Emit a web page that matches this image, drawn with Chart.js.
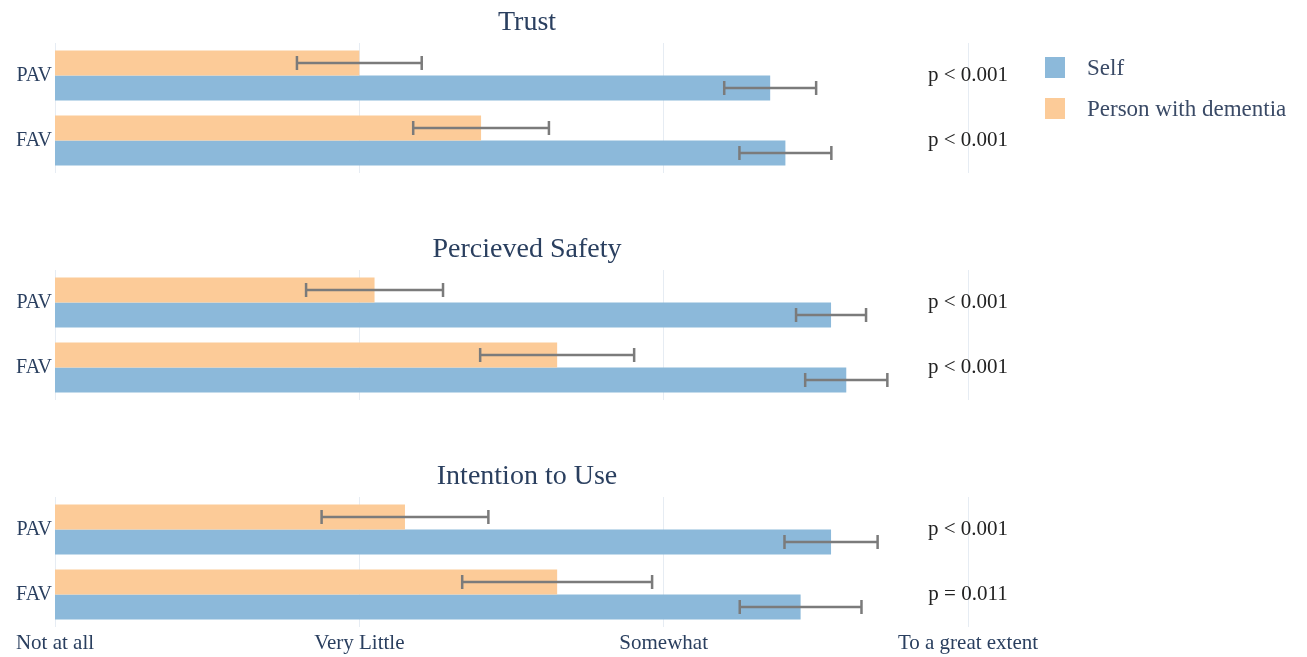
<!DOCTYPE html>
<html lang="en">
<head>
    <meta charset="UTF-8">
    <title>Trust, Safety and Intention to Use</title>
    <script src="https://cdn.jsdelivr.net/npm/chart.js"></script>
    <style>
        body {
            margin: 0;
            padding: 0;
            background-color: #fff;
            font-family: "Liberation Serif", serif;
        }
        .page {
            position: relative;
            width: 1307px;
            height: 657px;
            overflow: hidden;
        }
        .panel {
            position: absolute;
            left: 0;
            width: 1307px;
        }
        .legend {
            position: absolute;
            left: 1045px;
            top: 57px;
            color: #3a4a66;
            font-size: 23px;
        }
        .legend-item {
            display: flex;
            align-items: center;
            height: 21px;
            margin-bottom: 20px;
        }
        .swatch {
            width: 20px;
            height: 21px;
            margin-right: 22px;
        }
    </style>
</head>
<body>
<div class="page">
    <div class="panel" style="top:0px"><canvas id="chart0" width="1307" height="173"></canvas></div>
    <div class="panel" style="top:200px"><canvas id="chart1" width="1307" height="200"></canvas></div>
    <div class="panel" style="top:430px"><canvas id="chart2" width="1307" height="227"></canvas></div>

    <div class="legend">
        <div class="legend-item"><div class="swatch" style="background:#8cb9da"></div>Self</div>
        <div class="legend-item"><div class="swatch" style="background:#fccb98"></div>Person with dementia</div>
    </div>
</div>

<script>
    // data (scale: 1 = Not at all ... 4 = To a great extent)
    const categories = ['PAV', 'FAV'];
    const panelTitles = ['Trust', 'Percieved Safety', 'Intention to Use'];
    const tickLabels = ['Not at all', 'Very Little', 'Somewhat', 'To a great extent'];

    const selfMeans = [[3.35, 3.40], [3.55, 3.60], [3.55, 3.45]];
    const selfErrors = [[0.151, 0.151], [0.115, 0.135], [0.153, 0.20]];
    const dementiaMeans = [[2.00, 2.40], [2.05, 2.65], [2.15, 2.65]];
    const dementiaErrors = [[0.205, 0.223], [0.225, 0.253], [0.274, 0.312]];
    const pValues = [
        ['p < 0.001', 'p < 0.001'],
        ['p < 0.001', 'p < 0.001'],
        ['p < 0.001', 'p = 0.011']
    ];

    const blue = '#8cb9da';
    const orange = '#fccb98';
    const fontFamily = '"Liberation Serif", serif';

    // area tops inside each canvas
    const topPadding = [43, 70, 67];

    const errorBars = {
        id: 'errorBars',
        afterDatasetsDraw(chart) {
            const ctx = chart.ctx;
            const x = chart.scales.x;
            ctx.save();
            ctx.strokeStyle = '#7b7b7b';
            ctx.lineWidth = 2.5;
            chart.data.datasets.forEach((ds, di) => {
                const meta = chart.getDatasetMeta(di);
                meta.data.forEach((bar, i) => {
                    const v = ds.data[i];
                    const e = ds.errors[i];
                    const x1 = x.getPixelForValue(v - e);
                    const x2 = x.getPixelForValue(v + e);
                    const y = bar.y;
                    ctx.beginPath();
                    ctx.moveTo(x1, y);
                    ctx.lineTo(x2, y);
                    ctx.moveTo(x1, y - 7);
                    ctx.lineTo(x1, y + 7);
                    ctx.moveTo(x2, y - 7);
                    ctx.lineTo(x2, y + 7);
                    ctx.stroke();
                });
            });
            ctx.restore();
        }
    };

    const annotations = {
        id: 'annotations',
        afterDraw(chart, args, opts) {
            const ctx = chart.ctx;
            const area = chart.chartArea;
            const yScale = chart.scales.y;
            ctx.save();
            ctx.textAlign = 'center';
            ctx.textBaseline = 'middle';
            ctx.fillStyle = '#2a3f5f';
            ctx.font = '28px ' + fontFamily;
            ctx.fillText(opts.title, 527, area.top - 20);
            ctx.fillStyle = '#222';
            ctx.font = '21px ' + fontFamily;
            opts.pvals.forEach((p, i) => {
                ctx.fillText(p, area.right, yScale.getPixelForValue(i));
            });
            ctx.restore();
        }
    };

    function makePanel(k) {
        const isLast = k === panelTitles.length - 1;
        return new Chart(document.getElementById('chart' + k), {
            type: 'bar',
            data: {
                labels: categories,
                datasets: [
                    {
                        label: 'Person with dementia',
                        data: dementiaMeans[k],
                        errors: dementiaErrors[k],
                        backgroundColor: orange
                    },
                    {
                        label: 'Self',
                        data: selfMeans[k],
                        errors: selfErrors[k],
                        backgroundColor: blue
                    }
                ]
            },
            options: {
                indexAxis: 'y',
                responsive: false,
                animation: false,
                categoryPercentage: 0.77,
                barPercentage: 1,
                layout: { padding: { top: topPadding[k], right: 339, left: 0, bottom: 0 } },
                plugins: {
                    legend: { display: false },
                    tooltip: { enabled: false },
                    annotations: { title: panelTitles[k], pvals: pValues[k] }
                },
                scales: {
                    x: {
                        min: 1,
                        max: 4,
                        border: { display: false },
                        grid: { color: '#e6ecf3', drawTicks: false, lineWidth: 1 },
                        ticks: {
                            display: isLast,
                            stepSize: 1,
                            padding: 4,
                            color: '#2a3f5f',
                            font: { family: fontFamily, size: 21 },
                            callback: v => tickLabels[v - 1]
                        },
                        afterFit: axis => {
                            axis.height = isLast ? 30 : 0;
                            axis.paddingLeft = 0;
                            axis.paddingRight = 0;
                        }
                    },
                    y: {
                        border: { display: false },
                        grid: { display: false, drawTicks: false },
                        ticks: {
                            padding: 3,
                            color: '#2a3f5f',
                            font: { family: fontFamily, size: 20 }
                        },
                        afterFit: axis => {
                            axis.width = 55;
                            axis.paddingTop = 0;
                            axis.paddingBottom = 0;
                        }
                    }
                }
            },
            plugins: [errorBars, annotations]
        });
    }

    panelTitles.forEach((t, k) => makePanel(k));
</script>
</body>
</html>
